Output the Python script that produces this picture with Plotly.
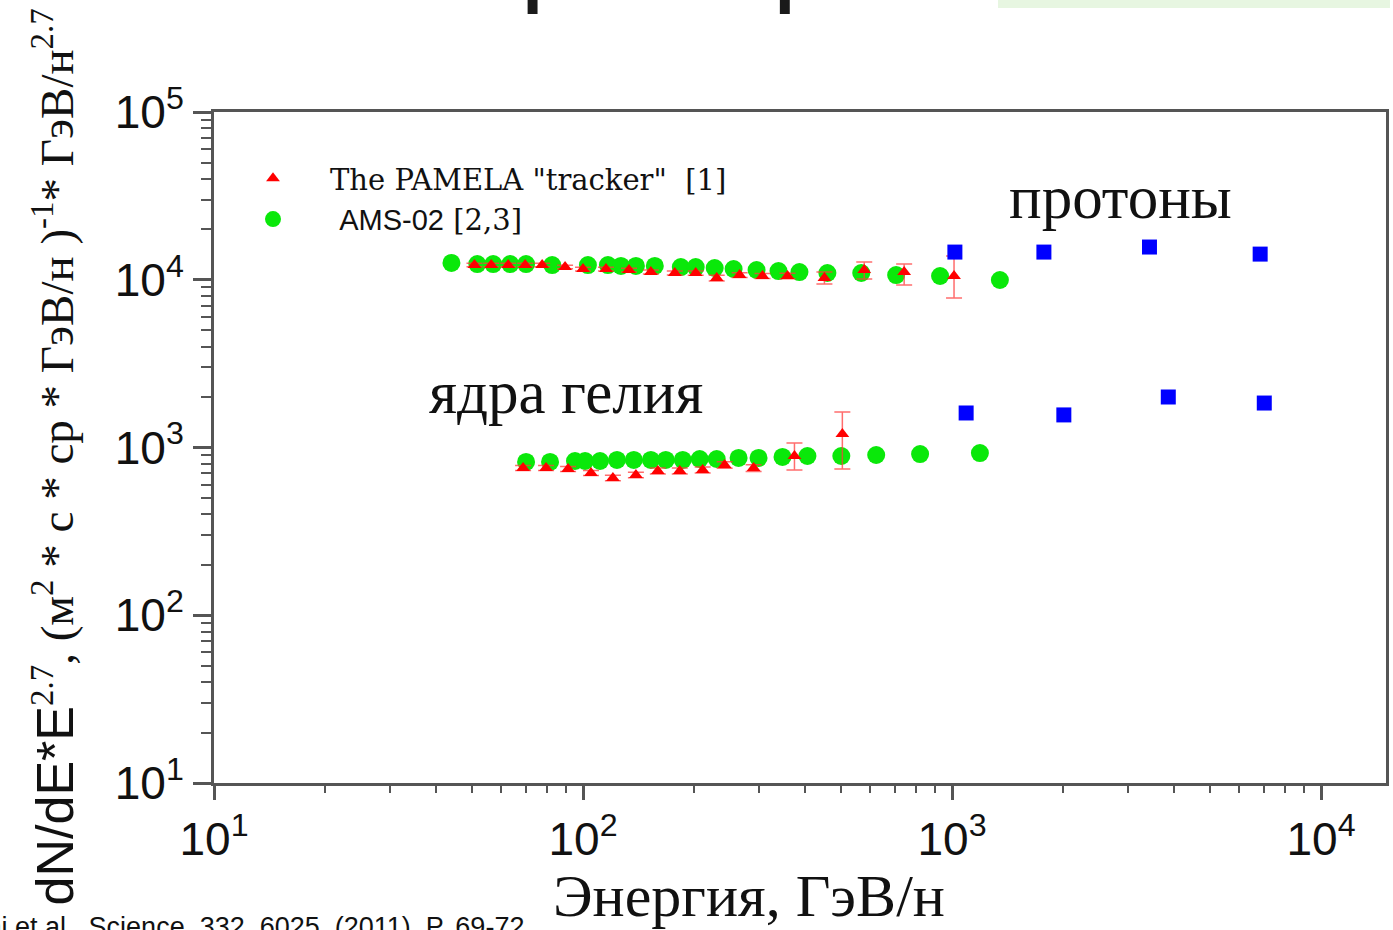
import plotly.graph_objects as go
import math

# ---------------- data ----------------
# AMS-02 protons
ams_p_E = [44.0, 51.7, 57.1, 63.5, 70.1, 82.5, 103.1, 116.8, 126.7, 139.1, 156.5, 184.1,
           202.0, 227.4, 255.9, 295.3, 338.6, 385.9, 459.4, 567.6, 705.6, 928.1, 1348]
ams_p_F = [12590, 12410, 12410, 12410, 12410, 12240, 12240, 12240, 12080, 12080, 12080, 11910,
           11910, 11750, 11590, 11430, 11270, 11120, 10970, 10970, 10670, 10530, 9966]
# AMS-02 helium
ams_he_E = [70.1, 81.4, 95.1, 101.3, 111.2, 123.6, 137.3, 152.7, 167.6, 186.3, 207.1, 230.3,
            264.0, 299.0, 347.2, 405.6, 501.2, 623.0, 819.3, 1190]
ams_he_F = [820, 820, 831, 831, 831, 843, 843, 843, 843, 843, 854, 854,
            866, 866, 878, 890, 890, 902, 914, 927]
# PAMELA protons
pam_p_E = [50.8, 56.4, 62.7, 69.7, 77.5, 89.4, 100.0, 115.4, 133.2, 152.7, 177.3, 202.0,
           230.3, 265.7, 306.5, 358.2, 451.0, 578.2, 741.7, 1012.5]
pam_p_F = [12240, 12240, 12240, 12240, 12240, 11910, 11590, 11590, 11430, 11120, 10970, 10970,
           10240, 10670, 10530, 10530, 10240, 11430, 11120, 10530]
pam_p_up = [300, 300, 300, 300, 300, 300, 300, 300, 300, 300, 300, 320,
            400, 350, 350, 400, 880, 1340, 1290, 3330]
pam_p_dn = [300, 300, 300, 300, 300, 300, 300, 300, 300, 300, 300, 320,
            400, 350, 350, 400, 806, 1330, 1815, 2740]
# PAMELA helium
pam_he_E = [68.8, 79.4, 91.1, 105.1, 120.5, 139.1, 159.5, 182.9, 211.0, 242.0, 289.9, 374.1, 504.4]
pam_he_F = [755, 755, 745, 705, 658, 686, 724, 724, 734, 787, 755, 890, 1203]
pam_he_up = [25, 25, 25, 25, 25, 25, 30, 30, 30, 35, 35, 173, 425]
pam_he_dn = [25, 25, 25, 25, 25, 25, 30, 30, 30, 35, 35, 155, 458]
# high-energy points (blue squares)
hi_p_E = [1018, 1774, 3428, 6839]
hi_p_F = [14620, 14620, 15670, 14220]
hi_he_E = [1092, 2009, 3855, 7017]
hi_he_F = [1606, 1564, 2000, 1841]

x_tickvals = [10, 100, 1000, 10000]
x_ticktext = ["10<sup>1</sup>", "10<sup>2</sup>", "10<sup>3</sup>", "10<sup>4</sup>"]
y_tickvals = [10, 100, 1000, 10000, 100000]
y_ticktext = ["10<sup>1</sup>", "10<sup>2</sup>", "10<sup>3</sup>", "10<sup>4</sup>", "10<sup>5</sup>"]

# ---------------- styling ----------------
GREEN = "rgb(10,232,10)"
RED = "rgb(255,0,0)"
BLUE = "rgb(0,0,255)"
AXC = "#555555"
W, H = 1393, 930
L, R, T, B = 214, 4, 112, 147
PW, PH = W - L - R, H - T - B
SANS = "Liberation Sans, Arial, sans-serif"
SERIF = "Liberation Serif, Times New Roman, serif"


def px_x(px):
    return (px - L) / PW


def px_y(py):
    return (H - B - py) / PH


fig = go.Figure()

fig.add_trace(go.Scatter(x=ams_p_E, y=ams_p_F, mode="markers",
                         name='\u00a0<span style="font-family:Liberation Sans, Arial, sans-serif">AMS-02</span> [2,3]',
                         legendgroup="ams", legendrank=2,
                         marker=dict(symbol="circle", size=18, color=GREEN)))
fig.add_trace(go.Scatter(x=ams_he_E, y=ams_he_F, mode="markers", name="AMS-02",
                         legendgroup="ams", showlegend=False,
                         marker=dict(symbol="circle", size=18, color=GREEN)))

err_style = dict(type="data", symmetric=False, color="rgba(255,60,60,0.75)", thickness=1.5, width=8)
fig.add_trace(go.Scatter(x=pam_p_E, y=pam_p_F, mode="markers",
                         name='The PAMELA "tracker"\u00a0\u00a0[1]',
                         legendgroup="pam", legendrank=1,
                         error_y=dict(array=pam_p_up, arrayminus=pam_p_dn, **err_style),
                         marker=dict(symbol="triangle-up", size=12, color=RED)))
fig.add_trace(go.Scatter(x=pam_he_E, y=pam_he_F, mode="markers", name="PAMELA He",
                         legendgroup="pam", showlegend=False,
                         error_y=dict(array=pam_he_up, arrayminus=pam_he_dn, **err_style),
                         marker=dict(symbol="triangle-up", size=12, color=RED)))

fig.add_trace(go.Scatter(x=hi_p_E, y=hi_p_F, mode="markers", showlegend=False,
                         marker=dict(symbol="square", size=15, color=BLUE)))
fig.add_trace(go.Scatter(x=hi_he_E, y=hi_he_F, mode="markers", showlegend=False,
                         marker=dict(symbol="square", size=15, color=BLUE)))

minor_x = [m * 10 ** d for d in range(1, 4) for m in range(2, 10)]
minor_y = [m * 10 ** d for d in range(1, 5) for m in range(2, 10)]

tickfont = dict(family=SANS, size=46, color="#111111")

fig.update_xaxes(type="log", range=[1, 4.176], showline=True, linecolor=AXC, linewidth=3,
                 mirror=True, showgrid=False, zeroline=False,
                 tickmode="array", tickvals=x_tickvals, ticktext=x_ticktext,
                 ticks="outside", ticklen=14, tickwidth=3, tickcolor=AXC,
                 tickfont=tickfont, ticklabelstandoff=0,
                 minor=dict(tickmode="array", tickvals=minor_x, ticks="outside",
                            ticklen=7, tickwidth=2, tickcolor=AXC, showgrid=False))
fig.update_yaxes(type="log", range=[1, 5], showline=True, linecolor=AXC, linewidth=3,
                 mirror=True, showgrid=False, zeroline=False,
                 tickmode="array", tickvals=y_tickvals, ticktext=y_ticktext,
                 ticks="outside", ticklen=18, tickwidth=3, tickcolor=AXC,
                 tickfont=tickfont, ticklabelstandoff=0,
                 minor=dict(tickmode="array", tickvals=minor_y, ticks="outside",
                            ticklen=10, tickwidth=2, tickcolor=AXC, showgrid=False))

annotations = [
    # in-plot labels
    dict(x=math.log10(2865), y=4.493, xref="x", yref="y", text="протоны", showarrow=False,
         xanchor="center", yanchor="middle",
         font=dict(family=SERIF, size=61, color="#111111")),
    dict(x=math.log10(90), y=3.325, xref="x", yref="y", text="ядра гелия", showarrow=False,
         xanchor="center", yanchor="middle",
         font=dict(family=SERIF, size=61, color="#111111")),
    # x axis title
    dict(x=px_x(750), y=px_y(896), xref="paper", yref="paper", text="Энергия, ГэВ/н",
         xanchor="center", yanchor="middle",
         showarrow=False, font=dict(family=SERIF, size=60, color="#111111")),
    # y axis title
    dict(x=px_x(54), y=px_y(457), xref="paper", yref="paper", textangle=-90, showarrow=False,
         xanchor="center", yanchor="middle",
         text='<span style="font-family:Liberation Sans, Arial, sans-serif; font-size:52px">dN/dE*E</span>'
              '<sup>2.7</sup>, (м<sup>2</sup> * с * ср * ГэВ/н )<sup>-1</sup>* ГэВ/н<sup>2.7</sup>',
         font=dict(family=SERIF, size=47, color="#111111")),
    # citation (cut at left/bottom edge)
    dict(x=px_x(527), y=px_y(927), xref="paper", yref="paper", xanchor="right", yanchor="middle",
         text="O. Adriani et al., Science, 332, 6025, (2011), P. 69-72", showarrow=False,
         font=dict(family=SANS, size=27, color="#111111")),
    # slide title (mostly outside the picture)
    dict(x=px_x(1229), y=px_y(22), xref="paper", yref="paper", xanchor="right", yanchor="bottom",
         text="Энергетические спектры протонов", showarrow=False,
         font=dict(family="Noto Sans, sans-serif", size=113, color="#1a1a1a")),
]

fig.update_layout(
    width=W, height=H, autosize=False,
    margin=dict(l=L, r=R, t=T, b=B, pad=0),
    plot_bgcolor="white", paper_bgcolor="white",
    annotations=annotations,
    showlegend=True,
    legend=dict(x=px_x(216), y=px_y(153), xanchor="left", yanchor="top",
                bgcolor="rgba(0,0,0,0)", borderwidth=0, itemwidth=104, tracegroupgap=0,
                font=dict(family="DejaVu Serif, serif", size=29, color="#111111")),
    shapes=[dict(type="rect", xref="paper", yref="paper", x0=px_x(1000), x1=px_x(1393),
                 y0=px_y(8), y1=px_y(0), fillcolor="rgba(215,240,205,0.6)", line_width=0,
                 layer="below")],
)

fig.write_html("out.html", config={"displayModeBar": False},
               post_script="document.body.style.margin='0px';document.body.style.overflow='hidden';")
